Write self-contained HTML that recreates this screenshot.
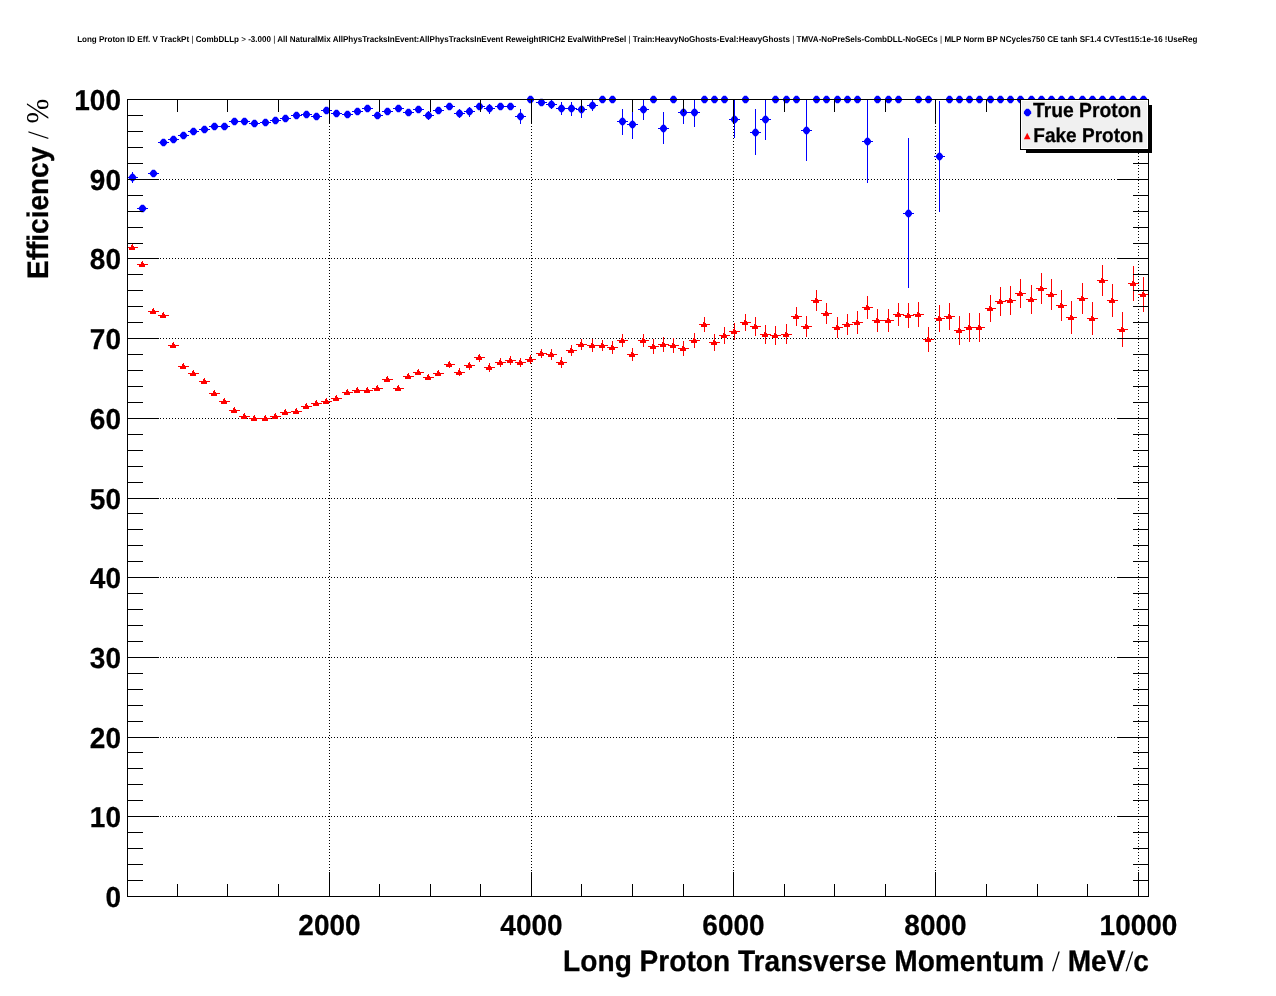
<!DOCTYPE html>
<html><head><meta charset="utf-8"><title>Long Proton ID Eff. V TrackPt</title>
<style>html,body{margin:0;padding:0;background:#fff;}body{width:1276px;height:996px;overflow:hidden;}svg{display:block;}</style>
</head><body>
<svg width="1276" height="996" viewBox="0 0 1276 996">
<rect x="0" y="0" width="1276" height="996" fill="#ffffff"/>
<path d="M127,816.5H1149M127,737.5H1149M127,657.5H1149M127,577.5H1149M127,498.5H1149M127,418.5H1149M127,338.5H1149M127,258.5H1149M127,179.5H1149M329.5,99V897M531.5,99V897M733.5,99V897M935.5,99V897M1138.5,99V897" stroke="#000" stroke-width="1" stroke-dasharray="1 2" fill="none"/>
<path d="M127.0,177.5H138.0M132.5,172V183M137.0,208.5H148.0M148.0,173.5H159.0M158.0,142.5H169.0M168.0,139.5H179.0M178.0,135.5H189.0M188.0,131.5H199.0M199.0,129.5H210.0M209.0,126.5H220.0M219.0,126.5H230.0M229.0,121.5H240.0M239.0,121.5H250.0M249.0,123.5H260.0M260.0,122.5H271.0M270.0,120.5H281.0M280.0,118.5H291.0M291.0,115.5H302.0M301.0,114.5H312.0M311.0,116.5H322.0M321.0,110.5H332.0M331.0,113.5H342.0M342.0,114.5H353.0M352.0,111.5H363.0M362.0,108.5H373.0M372.0,115.5H383.0M382.0,111.5H393.0M393.0,108.5H404.0M403.0,112.5H414.0M413.0,109.5H424.0M423.0,115.5H434.0M428.5,111V120M433.0,110.5H444.0M444.0,106.5H455.0M454.0,113.5H465.0M459.5,109V118M464.0,111.5H475.0M469.5,107V117M474.0,106.5H485.0M484.0,108.5H495.0M489.5,104V114M495.0,106.5H506.0M505.0,106.5H516.0M515.0,116.5H526.0M520.5,109V124M525.0,99.5H536.0M536.0,102.5H547.0M546.0,104.5H557.0M551.5,100V109M556.0,108.5H567.0M561.5,102V115M566.0,108.5H577.0M571.5,102V116M576.0,109.5H587.0M581.5,104V118M587.0,105.5H598.0M592.5,100V111M597.0,99.5H608.0M607.0,99.5H618.0M617.0,121.5H628.0M622.5,109V135M627.0,124.5H638.0M632.5,112V139M638.0,109.5H649.0M643.5,100V120M648.0,99.5H659.0M658.0,128.5H669.0M663.5,112V144M668.0,99.5H679.0M678.0,112.5H689.0M683.5,100V124M689.0,112.5H700.0M694.5,100V127M699.0,99.5H710.0M709.0,99.5H720.0M719.0,99.5H730.0M729.0,119.5H740.0M734.5,100V138M740.0,99.5H751.0M750.0,132.5H761.0M755.5,109V155M760.0,119.5H771.0M765.5,100V140M770.0,99.5H781.0M781.0,99.5H792.0M791.0,99.5H802.0M801.0,130.5H812.0M806.5,100V161M811.0,99.5H822.0M821.0,99.5H832.0M832.0,99.5H843.0M842.0,99.5H853.0M852.0,99.5H863.0M862.0,141.5H873.0M867.5,100V183M872.0,99.5H883.0M883.0,99.5H894.0M893.0,99.5H904.0M903.0,213.5H914.0M908.5,138V288M913.0,99.5H924.0M923.0,99.5H934.0M934.0,156.5H945.0M939.5,101V212M944.0,99.5H955.0M954.0,99.5H965.0M964.0,99.5H975.0M974.0,99.5H985.0M985.0,99.5H996.0M995.0,99.5H1006.0M1005.0,99.5H1016.0M1015.0,99.5H1026.0M1026.0,99.5H1037.0M1036.0,99.5H1047.0M1046.0,99.5H1057.0M1056.0,99.5H1067.0M1066.0,99.5H1077.0M1077.0,99.5H1088.0M1087.0,99.5H1098.0M1097.0,99.5H1108.0M1107.0,99.5H1118.0M1117.0,99.5H1128.0M1128.0,99.5H1139.0M1138.0,99.5H1149.0" stroke="#0000ff" stroke-width="1" fill="none"/>
<path d="M127.0,247.5H138.0M137.0,264.5H148.0M148.0,311.5H159.0M158.0,315.5H169.0M168.0,345.5H179.0M178.0,366.5H189.0M188.0,373.5H199.0M199.0,381.5H210.0M209.0,393.5H220.0M219.0,401.5H230.0M229.0,410.5H240.0M239.0,416.5H250.0M249.0,418.5H260.0M260.0,418.5H271.0M270.0,416.5H281.0M280.0,412.5H291.0M291.0,411.5H302.0M301.0,406.5H312.0M311.0,403.5H322.0M321.0,401.5H332.0M331.0,398.5H342.0M342.0,392.5H353.0M352.0,390.5H363.0M362.0,390.5H373.0M372.0,388.5H383.0M382.0,379.5H393.0M393.0,388.5H404.0M403.0,376.5H414.0M413.0,372.5H424.0M423.0,377.5H434.0M433.0,373.5H444.0M444.0,364.5H455.0M449.5,361V368M454.0,372.5H465.0M459.5,368V376M464.0,365.5H475.0M469.5,362V370M474.0,357.5H485.0M479.5,354V362M484.0,367.5H495.0M489.5,363V372M495.0,362.5H506.0M500.5,358V367M505.0,360.5H516.0M510.5,356V365M515.0,362.5H526.0M520.5,358V367M525.0,359.5H536.0M530.5,355V364M536.0,353.5H547.0M541.5,349V358M546.0,354.5H557.0M551.5,349V360M556.0,362.5H567.0M561.5,357V368M566.0,350.5H577.0M571.5,345V356M576.0,344.5H587.0M581.5,339V350M587.0,345.5H598.0M592.5,339V352M597.0,345.5H608.0M602.5,340V351M607.0,347.5H618.0M612.5,341V354M617.0,340.5H628.0M622.5,334V347M627.0,354.5H638.0M632.5,348V361M638.0,340.5H649.0M643.5,334V347M648.0,346.5H659.0M653.5,339V354M658.0,344.5H669.0M663.5,337V352M668.0,345.5H679.0M673.5,338V353M678.0,348.5H689.0M683.5,341V356M689.0,340.5H700.0M694.5,333V348M699.0,324.5H710.0M704.5,317V332M709.0,342.5H720.0M714.5,334V351M719.0,335.5H730.0M724.5,327V344M729.0,331.5H740.0M734.5,323V340M740.0,322.5H751.0M745.5,314V331M750.0,326.5H761.0M755.5,317V336M760.0,334.5H771.0M765.5,325V344M770.0,335.5H781.0M775.5,326V345M781.0,334.5H792.0M786.5,324V344M791.0,316.5H802.0M796.5,307V326M801.0,326.5H812.0M806.5,316V337M811.0,300.5H822.0M816.5,290V311M821.0,313.5H832.0M826.5,303V324M832.0,327.5H843.0M837.5,317V338M842.0,324.5H853.0M847.5,314V335M852.0,322.5H863.0M857.5,311V334M862.0,307.5H873.0M867.5,296V319M872.0,320.5H883.0M877.5,309V332M883.0,320.5H894.0M888.5,309V332M893.0,314.5H904.0M898.5,303V326M903.0,315.5H914.0M908.5,303V328M913.0,314.5H924.0M918.5,302V327M923.0,339.5H934.0M928.5,327V352M934.0,318.5H945.0M939.5,305V332M944.0,316.5H955.0M949.5,303V330M954.0,330.5H965.0M959.5,316V345M964.0,327.5H975.0M969.5,313V342M974.0,327.5H985.0M979.5,313V342M985.0,308.5H996.0M990.5,295V322M995.0,301.5H1006.0M1000.5,287V316M1005.0,300.5H1016.0M1010.5,286V315M1015.0,293.5H1026.0M1020.5,279V308M1026.0,299.5H1037.0M1031.5,285V314M1036.0,288.5H1047.0M1041.5,273V304M1046.0,294.5H1057.0M1051.5,279V310M1056.0,305.5H1067.0M1061.5,290V321M1066.0,317.5H1077.0M1071.5,301V334M1077.0,298.5H1088.0M1082.5,283V314M1087.0,318.5H1098.0M1092.5,302V335M1097.0,280.5H1108.0M1102.5,265V296M1107.0,300.5H1118.0M1112.5,284V317M1117.0,329.5H1128.0M1122.5,312V347M1128.0,283.5H1139.0M1133.5,266V301M1138.0,294.5H1149.0M1143.5,277V312" stroke="#ff0000" stroke-width="1" fill="none"/>
<path d="M131.3,173.8L133.7,173.8L134.9,175.1L136.2,176.8L136.2,178.2L134.9,179.9L133.7,181.2L131.3,181.2L130.1,179.9L128.8,178.2L128.8,176.8L130.1,175.1ZM141.3,204.8L143.7,204.8L144.9,206.1L146.2,207.8L146.2,209.2L144.9,210.9L143.7,212.2L141.3,212.2L140.1,210.9L138.8,209.2L138.8,207.8L140.1,206.1ZM152.3,169.8L154.7,169.8L155.9,171.1L157.2,172.8L157.2,174.2L155.9,175.9L154.7,177.2L152.3,177.2L151.1,175.9L149.8,174.2L149.8,172.8L151.1,171.1ZM162.3,138.8L164.7,138.8L165.9,140.1L167.2,141.8L167.2,143.2L165.9,144.9L164.7,146.2L162.3,146.2L161.1,144.9L159.8,143.2L159.8,141.8L161.1,140.1ZM172.3,135.8L174.7,135.8L175.9,137.1L177.2,138.8L177.2,140.2L175.9,141.9L174.7,143.2L172.3,143.2L171.1,141.9L169.8,140.2L169.8,138.8L171.1,137.1ZM182.3,131.8L184.7,131.8L185.9,133.1L187.2,134.8L187.2,136.2L185.9,137.9L184.7,139.2L182.3,139.2L181.1,137.9L179.8,136.2L179.8,134.8L181.1,133.1ZM192.3,127.8L194.7,127.8L195.9,129.1L197.2,130.8L197.2,132.2L195.9,133.9L194.7,135.2L192.3,135.2L191.1,133.9L189.8,132.2L189.8,130.8L191.1,129.1ZM203.3,125.8L205.7,125.8L206.9,127.1L208.2,128.8L208.2,130.2L206.9,131.9L205.7,133.2L203.3,133.2L202.1,131.9L200.8,130.2L200.8,128.8L202.1,127.1ZM213.3,122.8L215.7,122.8L216.9,124.1L218.2,125.8L218.2,127.2L216.9,128.9L215.7,130.2L213.3,130.2L212.1,128.9L210.8,127.2L210.8,125.8L212.1,124.1ZM223.3,122.8L225.7,122.8L226.9,124.1L228.2,125.8L228.2,127.2L226.9,128.9L225.7,130.2L223.3,130.2L222.1,128.9L220.8,127.2L220.8,125.8L222.1,124.1ZM233.3,117.8L235.7,117.8L236.9,119.1L238.2,120.8L238.2,122.2L236.9,123.9L235.7,125.2L233.3,125.2L232.1,123.9L230.8,122.2L230.8,120.8L232.1,119.1ZM243.3,117.8L245.7,117.8L246.9,119.1L248.2,120.8L248.2,122.2L246.9,123.9L245.7,125.2L243.3,125.2L242.1,123.9L240.8,122.2L240.8,120.8L242.1,119.1ZM253.3,119.8L255.7,119.8L256.9,121.1L258.1,122.8L258.1,124.2L256.9,125.9L255.7,127.2L253.3,127.2L252.1,125.9L250.8,124.2L250.8,122.8L252.1,121.1ZM264.3,118.8L266.7,118.8L267.9,120.1L269.1,121.8L269.1,123.2L267.9,124.9L266.7,126.2L264.3,126.2L263.1,124.9L261.9,123.2L261.9,121.8L263.1,120.1ZM274.3,116.8L276.7,116.8L277.9,118.1L279.1,119.8L279.1,121.2L277.9,122.9L276.7,124.2L274.3,124.2L273.1,122.9L271.9,121.2L271.9,119.8L273.1,118.1ZM284.3,114.8L286.7,114.8L287.9,116.1L289.1,117.8L289.1,119.2L287.9,120.9L286.7,122.2L284.3,122.2L283.1,120.9L281.9,119.2L281.9,117.8L283.1,116.1ZM295.3,111.8L297.7,111.8L298.9,113.1L300.1,114.8L300.1,116.2L298.9,117.9L297.7,119.2L295.3,119.2L294.1,117.9L292.9,116.2L292.9,114.8L294.1,113.1ZM305.3,110.8L307.7,110.8L308.9,112.1L310.1,113.8L310.1,115.2L308.9,116.9L307.7,118.2L305.3,118.2L304.1,116.9L302.9,115.2L302.9,113.8L304.1,112.1ZM315.3,112.8L317.7,112.8L318.9,114.1L320.1,115.8L320.1,117.2L318.9,118.9L317.7,120.2L315.3,120.2L314.1,118.9L312.9,117.2L312.9,115.8L314.1,114.1ZM325.3,106.8L327.7,106.8L328.9,108.1L330.1,109.8L330.1,111.2L328.9,112.9L327.7,114.2L325.3,114.2L324.1,112.9L322.9,111.2L322.9,109.8L324.1,108.1ZM335.3,109.8L337.7,109.8L338.9,111.1L340.1,112.8L340.1,114.2L338.9,115.9L337.7,117.2L335.3,117.2L334.1,115.9L332.9,114.2L332.9,112.8L334.1,111.1ZM346.3,110.8L348.7,110.8L349.9,112.1L351.1,113.8L351.1,115.2L349.9,116.9L348.7,118.2L346.3,118.2L345.1,116.9L343.9,115.2L343.9,113.8L345.1,112.1ZM356.3,107.8L358.7,107.8L359.9,109.1L361.1,110.8L361.1,112.2L359.9,113.9L358.7,115.2L356.3,115.2L355.1,113.9L353.9,112.2L353.9,110.8L355.1,109.1ZM366.3,104.8L368.7,104.8L369.9,106.1L371.1,107.8L371.1,109.2L369.9,110.9L368.7,112.2L366.3,112.2L365.1,110.9L363.9,109.2L363.9,107.8L365.1,106.1ZM376.3,111.8L378.7,111.8L379.9,113.1L381.1,114.8L381.1,116.2L379.9,117.9L378.7,119.2L376.3,119.2L375.1,117.9L373.9,116.2L373.9,114.8L375.1,113.1ZM386.3,107.8L388.7,107.8L389.9,109.1L391.1,110.8L391.1,112.2L389.9,113.9L388.7,115.2L386.3,115.2L385.1,113.9L383.9,112.2L383.9,110.8L385.1,109.1ZM397.3,104.8L399.7,104.8L400.9,106.1L402.1,107.8L402.1,109.2L400.9,110.9L399.7,112.2L397.3,112.2L396.1,110.9L394.9,109.2L394.9,107.8L396.1,106.1ZM407.3,108.8L409.7,108.8L410.9,110.1L412.1,111.8L412.1,113.2L410.9,114.9L409.7,116.2L407.3,116.2L406.1,114.9L404.9,113.2L404.9,111.8L406.1,110.1ZM417.3,105.8L419.7,105.8L420.9,107.1L422.1,108.8L422.1,110.2L420.9,111.9L419.7,113.2L417.3,113.2L416.1,111.9L414.9,110.2L414.9,108.8L416.1,107.1ZM427.3,111.8L429.7,111.8L430.9,113.1L432.1,114.8L432.1,116.2L430.9,117.9L429.7,119.2L427.3,119.2L426.1,117.9L424.9,116.2L424.9,114.8L426.1,113.1ZM437.3,106.8L439.7,106.8L440.9,108.1L442.1,109.8L442.1,111.2L440.9,112.9L439.7,114.2L437.3,114.2L436.1,112.9L434.9,111.2L434.9,109.8L436.1,108.1ZM448.3,102.8L450.7,102.8L451.9,104.1L453.1,105.8L453.1,107.2L451.9,108.9L450.7,110.2L448.3,110.2L447.1,108.9L445.9,107.2L445.9,105.8L447.1,104.1ZM458.3,109.8L460.7,109.8L461.9,111.1L463.1,112.8L463.1,114.2L461.9,115.9L460.7,117.2L458.3,117.2L457.1,115.9L455.9,114.2L455.9,112.8L457.1,111.1ZM468.3,107.8L470.7,107.8L471.9,109.1L473.1,110.8L473.1,112.2L471.9,113.9L470.7,115.2L468.3,115.2L467.1,113.9L465.9,112.2L465.9,110.8L467.1,109.1ZM478.3,102.8L480.7,102.8L481.9,104.1L483.1,105.8L483.1,107.2L481.9,108.9L480.7,110.2L478.3,110.2L477.1,108.9L475.9,107.2L475.9,105.8L477.1,104.1ZM488.3,104.8L490.7,104.8L491.9,106.1L493.1,107.8L493.1,109.2L491.9,110.9L490.7,112.2L488.3,112.2L487.1,110.9L485.9,109.2L485.9,107.8L487.1,106.1ZM499.3,102.8L501.7,102.8L502.9,104.1L504.1,105.8L504.1,107.2L502.9,108.9L501.7,110.2L499.3,110.2L498.1,108.9L496.9,107.2L496.9,105.8L498.1,104.1ZM509.3,102.8L511.7,102.8L512.9,104.1L514.1,105.8L514.1,107.2L512.9,108.9L511.7,110.2L509.3,110.2L508.1,108.9L506.9,107.2L506.9,105.8L508.1,104.1ZM519.3,112.8L521.7,112.8L522.9,114.1L524.1,115.8L524.1,117.2L522.9,118.9L521.7,120.2L519.3,120.2L518.1,118.9L516.9,117.2L516.9,115.8L518.1,114.1ZM529.3,95.8L531.7,95.8L532.9,97.1L534.1,98.8L534.1,100.2L532.9,101.9L531.7,103.2L529.3,103.2L528.1,101.9L526.9,100.2L526.9,98.8L528.1,97.1ZM540.3,98.8L542.7,98.8L543.9,100.1L545.1,101.8L545.1,103.2L543.9,104.9L542.7,106.2L540.3,106.2L539.1,104.9L537.9,103.2L537.9,101.8L539.1,100.1ZM550.3,100.8L552.7,100.8L553.9,102.1L555.1,103.8L555.1,105.2L553.9,106.9L552.7,108.2L550.3,108.2L549.1,106.9L547.9,105.2L547.9,103.8L549.1,102.1ZM560.3,104.8L562.7,104.8L563.9,106.1L565.1,107.8L565.1,109.2L563.9,110.9L562.7,112.2L560.3,112.2L559.1,110.9L557.9,109.2L557.9,107.8L559.1,106.1ZM570.3,104.8L572.7,104.8L573.9,106.1L575.1,107.8L575.1,109.2L573.9,110.9L572.7,112.2L570.3,112.2L569.1,110.9L567.9,109.2L567.9,107.8L569.1,106.1ZM580.3,105.8L582.7,105.8L583.9,107.1L585.1,108.8L585.1,110.2L583.9,111.9L582.7,113.2L580.3,113.2L579.1,111.9L577.9,110.2L577.9,108.8L579.1,107.1ZM591.3,101.8L593.7,101.8L594.9,103.1L596.1,104.8L596.1,106.2L594.9,107.9L593.7,109.2L591.3,109.2L590.1,107.9L588.9,106.2L588.9,104.8L590.1,103.1ZM601.3,95.8L603.7,95.8L604.9,97.1L606.1,98.8L606.1,100.2L604.9,101.9L603.7,103.2L601.3,103.2L600.1,101.9L598.9,100.2L598.9,98.8L600.1,97.1ZM611.3,95.8L613.7,95.8L614.9,97.1L616.1,98.8L616.1,100.2L614.9,101.9L613.7,103.2L611.3,103.2L610.1,101.9L608.9,100.2L608.9,98.8L610.1,97.1ZM621.3,117.8L623.7,117.8L624.9,119.1L626.1,120.8L626.1,122.2L624.9,123.9L623.7,125.2L621.3,125.2L620.1,123.9L618.9,122.2L618.9,120.8L620.1,119.1ZM631.3,120.8L633.7,120.8L634.9,122.1L636.1,123.8L636.1,125.2L634.9,126.9L633.7,128.2L631.3,128.2L630.1,126.9L628.9,125.2L628.9,123.8L630.1,122.1ZM642.3,105.8L644.7,105.8L645.9,107.1L647.1,108.8L647.1,110.2L645.9,111.9L644.7,113.2L642.3,113.2L641.1,111.9L639.9,110.2L639.9,108.8L641.1,107.1ZM652.3,95.8L654.7,95.8L655.9,97.1L657.1,98.8L657.1,100.2L655.9,101.9L654.7,103.2L652.3,103.2L651.1,101.9L649.9,100.2L649.9,98.8L651.1,97.1ZM662.3,124.8L664.7,124.8L665.9,126.1L667.1,127.8L667.1,129.2L665.9,130.9L664.7,132.2L662.3,132.2L661.1,130.9L659.9,129.2L659.9,127.8L661.1,126.1ZM672.3,95.8L674.7,95.8L675.9,97.1L677.1,98.8L677.1,100.2L675.9,101.9L674.7,103.2L672.3,103.2L671.1,101.9L669.9,100.2L669.9,98.8L671.1,97.1ZM682.3,108.8L684.7,108.8L685.9,110.1L687.1,111.8L687.1,113.2L685.9,114.9L684.7,116.2L682.3,116.2L681.1,114.9L679.9,113.2L679.9,111.8L681.1,110.1ZM693.3,108.8L695.7,108.8L696.9,110.1L698.1,111.8L698.1,113.2L696.9,114.9L695.7,116.2L693.3,116.2L692.1,114.9L690.9,113.2L690.9,111.8L692.1,110.1ZM703.3,95.8L705.7,95.8L706.9,97.1L708.1,98.8L708.1,100.2L706.9,101.9L705.7,103.2L703.3,103.2L702.1,101.9L700.9,100.2L700.9,98.8L702.1,97.1ZM713.3,95.8L715.7,95.8L716.9,97.1L718.1,98.8L718.1,100.2L716.9,101.9L715.7,103.2L713.3,103.2L712.1,101.9L710.9,100.2L710.9,98.8L712.1,97.1ZM723.3,95.8L725.7,95.8L726.9,97.1L728.1,98.8L728.1,100.2L726.9,101.9L725.7,103.2L723.3,103.2L722.1,101.9L720.9,100.2L720.9,98.8L722.1,97.1ZM733.3,115.8L735.7,115.8L736.9,117.1L738.1,118.8L738.1,120.2L736.9,121.9L735.7,123.2L733.3,123.2L732.1,121.9L730.9,120.2L730.9,118.8L732.1,117.1ZM744.3,95.8L746.7,95.8L747.9,97.1L749.1,98.8L749.1,100.2L747.9,101.9L746.7,103.2L744.3,103.2L743.1,101.9L741.9,100.2L741.9,98.8L743.1,97.1ZM754.3,128.8L756.7,128.8L757.9,130.1L759.1,131.8L759.1,133.2L757.9,134.9L756.7,136.2L754.3,136.2L753.1,134.9L751.9,133.2L751.9,131.8L753.1,130.1ZM764.3,115.8L766.7,115.8L767.9,117.1L769.1,118.8L769.1,120.2L767.9,121.9L766.7,123.2L764.3,123.2L763.1,121.9L761.9,120.2L761.9,118.8L763.1,117.1ZM774.3,95.8L776.7,95.8L777.9,97.1L779.1,98.8L779.1,100.2L777.9,101.9L776.7,103.2L774.3,103.2L773.1,101.9L771.9,100.2L771.9,98.8L773.1,97.1ZM785.3,95.8L787.7,95.8L788.9,97.1L790.1,98.8L790.1,100.2L788.9,101.9L787.7,103.2L785.3,103.2L784.1,101.9L782.9,100.2L782.9,98.8L784.1,97.1ZM795.3,95.8L797.7,95.8L798.9,97.1L800.1,98.8L800.1,100.2L798.9,101.9L797.7,103.2L795.3,103.2L794.1,101.9L792.9,100.2L792.9,98.8L794.1,97.1ZM805.3,126.8L807.7,126.8L808.9,128.1L810.1,129.8L810.1,131.2L808.9,132.9L807.7,134.2L805.3,134.2L804.1,132.9L802.9,131.2L802.9,129.8L804.1,128.1ZM815.3,95.8L817.7,95.8L818.9,97.1L820.1,98.8L820.1,100.2L818.9,101.9L817.7,103.2L815.3,103.2L814.1,101.9L812.9,100.2L812.9,98.8L814.1,97.1ZM825.3,95.8L827.7,95.8L828.9,97.1L830.1,98.8L830.1,100.2L828.9,101.9L827.7,103.2L825.3,103.2L824.1,101.9L822.9,100.2L822.9,98.8L824.1,97.1ZM836.3,95.8L838.7,95.8L839.9,97.1L841.1,98.8L841.1,100.2L839.9,101.9L838.7,103.2L836.3,103.2L835.1,101.9L833.9,100.2L833.9,98.8L835.1,97.1ZM846.3,95.8L848.7,95.8L849.9,97.1L851.1,98.8L851.1,100.2L849.9,101.9L848.7,103.2L846.3,103.2L845.1,101.9L843.9,100.2L843.9,98.8L845.1,97.1ZM856.3,95.8L858.7,95.8L859.9,97.1L861.1,98.8L861.1,100.2L859.9,101.9L858.7,103.2L856.3,103.2L855.1,101.9L853.9,100.2L853.9,98.8L855.1,97.1ZM866.3,137.8L868.7,137.8L869.9,139.1L871.1,140.8L871.1,142.2L869.9,143.9L868.7,145.2L866.3,145.2L865.1,143.9L863.9,142.2L863.9,140.8L865.1,139.1ZM876.3,95.8L878.7,95.8L879.9,97.1L881.1,98.8L881.1,100.2L879.9,101.9L878.7,103.2L876.3,103.2L875.1,101.9L873.9,100.2L873.9,98.8L875.1,97.1ZM887.3,95.8L889.7,95.8L890.9,97.1L892.1,98.8L892.1,100.2L890.9,101.9L889.7,103.2L887.3,103.2L886.1,101.9L884.9,100.2L884.9,98.8L886.1,97.1ZM897.3,95.8L899.7,95.8L900.9,97.1L902.1,98.8L902.1,100.2L900.9,101.9L899.7,103.2L897.3,103.2L896.1,101.9L894.9,100.2L894.9,98.8L896.1,97.1ZM907.3,209.8L909.7,209.8L910.9,211.1L912.1,212.8L912.1,214.2L910.9,215.9L909.7,217.2L907.3,217.2L906.1,215.9L904.9,214.2L904.9,212.8L906.1,211.1ZM917.3,95.8L919.7,95.8L920.9,97.1L922.1,98.8L922.1,100.2L920.9,101.9L919.7,103.2L917.3,103.2L916.1,101.9L914.9,100.2L914.9,98.8L916.1,97.1ZM927.3,95.8L929.7,95.8L930.9,97.1L932.1,98.8L932.1,100.2L930.9,101.9L929.7,103.2L927.3,103.2L926.1,101.9L924.9,100.2L924.9,98.8L926.1,97.1ZM938.3,152.8L940.7,152.8L941.9,154.1L943.1,155.8L943.1,157.2L941.9,158.9L940.7,160.2L938.3,160.2L937.1,158.9L935.9,157.2L935.9,155.8L937.1,154.1ZM948.3,95.8L950.7,95.8L951.9,97.1L953.1,98.8L953.1,100.2L951.9,101.9L950.7,103.2L948.3,103.2L947.1,101.9L945.9,100.2L945.9,98.8L947.1,97.1ZM958.3,95.8L960.7,95.8L961.9,97.1L963.1,98.8L963.1,100.2L961.9,101.9L960.7,103.2L958.3,103.2L957.1,101.9L955.9,100.2L955.9,98.8L957.1,97.1ZM968.3,95.8L970.7,95.8L971.9,97.1L973.1,98.8L973.1,100.2L971.9,101.9L970.7,103.2L968.3,103.2L967.1,101.9L965.9,100.2L965.9,98.8L967.1,97.1ZM978.3,95.8L980.7,95.8L981.9,97.1L983.1,98.8L983.1,100.2L981.9,101.9L980.7,103.2L978.3,103.2L977.1,101.9L975.9,100.2L975.9,98.8L977.1,97.1ZM989.3,95.8L991.7,95.8L992.9,97.1L994.1,98.8L994.1,100.2L992.9,101.9L991.7,103.2L989.3,103.2L988.1,101.9L986.9,100.2L986.9,98.8L988.1,97.1ZM999.3,95.8L1001.7,95.8L1002.9,97.1L1004.1,98.8L1004.1,100.2L1002.9,101.9L1001.7,103.2L999.3,103.2L998.1,101.9L996.9,100.2L996.9,98.8L998.1,97.1ZM1009.3,95.8L1011.7,95.8L1012.9,97.1L1014.1,98.8L1014.1,100.2L1012.9,101.9L1011.7,103.2L1009.3,103.2L1008.1,101.9L1006.9,100.2L1006.9,98.8L1008.1,97.1ZM1019.3,95.8L1021.7,95.8L1022.9,97.1L1024.2,98.8L1024.2,100.2L1022.9,101.9L1021.7,103.2L1019.3,103.2L1018.1,101.9L1016.9,100.2L1016.9,98.8L1018.1,97.1ZM1030.3,95.8L1032.7,95.8L1033.9,97.1L1035.2,98.8L1035.2,100.2L1033.9,101.9L1032.7,103.2L1030.3,103.2L1029.1,101.9L1027.8,100.2L1027.8,98.8L1029.1,97.1ZM1040.3,95.8L1042.7,95.8L1043.9,97.1L1045.2,98.8L1045.2,100.2L1043.9,101.9L1042.7,103.2L1040.3,103.2L1039.1,101.9L1037.8,100.2L1037.8,98.8L1039.1,97.1ZM1050.3,95.8L1052.7,95.8L1053.9,97.1L1055.2,98.8L1055.2,100.2L1053.9,101.9L1052.7,103.2L1050.3,103.2L1049.1,101.9L1047.8,100.2L1047.8,98.8L1049.1,97.1ZM1060.3,95.8L1062.7,95.8L1063.9,97.1L1065.2,98.8L1065.2,100.2L1063.9,101.9L1062.7,103.2L1060.3,103.2L1059.1,101.9L1057.8,100.2L1057.8,98.8L1059.1,97.1ZM1070.3,95.8L1072.7,95.8L1073.9,97.1L1075.2,98.8L1075.2,100.2L1073.9,101.9L1072.7,103.2L1070.3,103.2L1069.1,101.9L1067.8,100.2L1067.8,98.8L1069.1,97.1ZM1081.3,95.8L1083.7,95.8L1084.9,97.1L1086.2,98.8L1086.2,100.2L1084.9,101.9L1083.7,103.2L1081.3,103.2L1080.1,101.9L1078.8,100.2L1078.8,98.8L1080.1,97.1ZM1091.3,95.8L1093.7,95.8L1094.9,97.1L1096.2,98.8L1096.2,100.2L1094.9,101.9L1093.7,103.2L1091.3,103.2L1090.1,101.9L1088.8,100.2L1088.8,98.8L1090.1,97.1ZM1101.3,95.8L1103.7,95.8L1104.9,97.1L1106.2,98.8L1106.2,100.2L1104.9,101.9L1103.7,103.2L1101.3,103.2L1100.1,101.9L1098.8,100.2L1098.8,98.8L1100.1,97.1ZM1111.3,95.8L1113.7,95.8L1114.9,97.1L1116.2,98.8L1116.2,100.2L1114.9,101.9L1113.7,103.2L1111.3,103.2L1110.1,101.9L1108.8,100.2L1108.8,98.8L1110.1,97.1ZM1121.3,95.8L1123.7,95.8L1124.9,97.1L1126.2,98.8L1126.2,100.2L1124.9,101.9L1123.7,103.2L1121.3,103.2L1120.1,101.9L1118.8,100.2L1118.8,98.8L1120.1,97.1ZM1132.3,95.8L1134.7,95.8L1135.9,97.1L1137.2,98.8L1137.2,100.2L1135.9,101.9L1134.7,103.2L1132.3,103.2L1131.1,101.9L1129.8,100.2L1129.8,98.8L1131.1,97.1ZM1142.3,95.8L1144.7,95.8L1145.9,97.1L1147.2,98.8L1147.2,100.2L1145.9,101.9L1144.7,103.2L1142.3,103.2L1141.1,101.9L1139.8,100.2L1139.8,98.8L1141.1,97.1Z" fill="#0000ff"/>
<path d="M132.0,244.0L133.0,244.0L133.0,246.0L134.0,246.0L134.0,247.0L135.0,247.0L135.0,250.0L129.0,250.0L129.0,248.0L131.0,248.0L131.0,245.0L132.0,245.0ZM142.0,261.0L143.0,261.0L143.0,263.0L144.0,263.0L144.0,264.0L145.0,264.0L145.0,267.0L139.0,267.0L139.0,265.0L141.0,265.0L141.0,262.0L142.0,262.0ZM153.0,308.0L154.0,308.0L154.0,310.0L155.0,310.0L155.0,311.0L156.0,311.0L156.0,314.0L150.0,314.0L150.0,312.0L152.0,312.0L152.0,309.0L153.0,309.0ZM163.0,312.0L164.0,312.0L164.0,314.0L165.0,314.0L165.0,315.0L166.0,315.0L166.0,318.0L160.0,318.0L160.0,316.0L162.0,316.0L162.0,313.0L163.0,313.0ZM173.0,342.0L174.0,342.0L174.0,344.0L175.0,344.0L175.0,345.0L176.0,345.0L176.0,348.0L170.0,348.0L170.0,346.0L172.0,346.0L172.0,343.0L173.0,343.0ZM183.0,363.0L184.0,363.0L184.0,365.0L185.0,365.0L185.0,366.0L186.0,366.0L186.0,369.0L180.0,369.0L180.0,367.0L182.0,367.0L182.0,364.0L183.0,364.0ZM193.0,370.0L194.0,370.0L194.0,372.0L195.0,372.0L195.0,373.0L196.0,373.0L196.0,376.0L190.0,376.0L190.0,374.0L192.0,374.0L192.0,371.0L193.0,371.0ZM204.0,378.0L205.0,378.0L205.0,380.0L206.0,380.0L206.0,381.0L207.0,381.0L207.0,384.0L201.0,384.0L201.0,382.0L203.0,382.0L203.0,379.0L204.0,379.0ZM214.0,390.0L215.0,390.0L215.0,392.0L216.0,392.0L216.0,393.0L217.0,393.0L217.0,396.0L211.0,396.0L211.0,394.0L213.0,394.0L213.0,391.0L214.0,391.0ZM224.0,398.0L225.0,398.0L225.0,400.0L226.0,400.0L226.0,401.0L227.0,401.0L227.0,404.0L221.0,404.0L221.0,402.0L223.0,402.0L223.0,399.0L224.0,399.0ZM234.0,407.0L235.0,407.0L235.0,409.0L236.0,409.0L236.0,410.0L237.0,410.0L237.0,413.0L231.0,413.0L231.0,411.0L233.0,411.0L233.0,408.0L234.0,408.0ZM244.0,413.0L245.0,413.0L245.0,415.0L246.0,415.0L246.0,416.0L247.0,416.0L247.0,419.0L241.0,419.0L241.0,417.0L243.0,417.0L243.0,414.0L244.0,414.0ZM254.0,415.0L255.0,415.0L255.0,417.0L256.0,417.0L256.0,418.0L257.0,418.0L257.0,421.0L251.0,421.0L251.0,419.0L253.0,419.0L253.0,416.0L254.0,416.0ZM265.0,415.0L266.0,415.0L266.0,417.0L267.0,417.0L267.0,418.0L268.0,418.0L268.0,421.0L262.0,421.0L262.0,419.0L264.0,419.0L264.0,416.0L265.0,416.0ZM275.0,413.0L276.0,413.0L276.0,415.0L277.0,415.0L277.0,416.0L278.0,416.0L278.0,419.0L272.0,419.0L272.0,417.0L274.0,417.0L274.0,414.0L275.0,414.0ZM285.0,409.0L286.0,409.0L286.0,411.0L287.0,411.0L287.0,412.0L288.0,412.0L288.0,415.0L282.0,415.0L282.0,413.0L284.0,413.0L284.0,410.0L285.0,410.0ZM296.0,408.0L297.0,408.0L297.0,410.0L298.0,410.0L298.0,411.0L299.0,411.0L299.0,414.0L293.0,414.0L293.0,412.0L295.0,412.0L295.0,409.0L296.0,409.0ZM306.0,403.0L307.0,403.0L307.0,405.0L308.0,405.0L308.0,406.0L309.0,406.0L309.0,409.0L303.0,409.0L303.0,407.0L305.0,407.0L305.0,404.0L306.0,404.0ZM316.0,400.0L317.0,400.0L317.0,402.0L318.0,402.0L318.0,403.0L319.0,403.0L319.0,406.0L313.0,406.0L313.0,404.0L315.0,404.0L315.0,401.0L316.0,401.0ZM326.0,398.0L327.0,398.0L327.0,400.0L328.0,400.0L328.0,401.0L329.0,401.0L329.0,404.0L323.0,404.0L323.0,402.0L325.0,402.0L325.0,399.0L326.0,399.0ZM336.0,395.0L337.0,395.0L337.0,397.0L338.0,397.0L338.0,398.0L339.0,398.0L339.0,401.0L333.0,401.0L333.0,399.0L335.0,399.0L335.0,396.0L336.0,396.0ZM347.0,389.0L348.0,389.0L348.0,391.0L349.0,391.0L349.0,392.0L350.0,392.0L350.0,395.0L344.0,395.0L344.0,393.0L346.0,393.0L346.0,390.0L347.0,390.0ZM357.0,387.0L358.0,387.0L358.0,389.0L359.0,389.0L359.0,390.0L360.0,390.0L360.0,393.0L354.0,393.0L354.0,391.0L356.0,391.0L356.0,388.0L357.0,388.0ZM367.0,387.0L368.0,387.0L368.0,389.0L369.0,389.0L369.0,390.0L370.0,390.0L370.0,393.0L364.0,393.0L364.0,391.0L366.0,391.0L366.0,388.0L367.0,388.0ZM377.0,385.0L378.0,385.0L378.0,387.0L379.0,387.0L379.0,388.0L380.0,388.0L380.0,391.0L374.0,391.0L374.0,389.0L376.0,389.0L376.0,386.0L377.0,386.0ZM387.0,376.0L388.0,376.0L388.0,378.0L389.0,378.0L389.0,379.0L390.0,379.0L390.0,382.0L384.0,382.0L384.0,380.0L386.0,380.0L386.0,377.0L387.0,377.0ZM398.0,385.0L399.0,385.0L399.0,387.0L400.0,387.0L400.0,388.0L401.0,388.0L401.0,391.0L395.0,391.0L395.0,389.0L397.0,389.0L397.0,386.0L398.0,386.0ZM408.0,373.0L409.0,373.0L409.0,375.0L410.0,375.0L410.0,376.0L411.0,376.0L411.0,379.0L405.0,379.0L405.0,377.0L407.0,377.0L407.0,374.0L408.0,374.0ZM418.0,369.0L419.0,369.0L419.0,371.0L420.0,371.0L420.0,372.0L421.0,372.0L421.0,375.0L415.0,375.0L415.0,373.0L417.0,373.0L417.0,370.0L418.0,370.0ZM428.0,374.0L429.0,374.0L429.0,376.0L430.0,376.0L430.0,377.0L431.0,377.0L431.0,380.0L425.0,380.0L425.0,378.0L427.0,378.0L427.0,375.0L428.0,375.0ZM438.0,370.0L439.0,370.0L439.0,372.0L440.0,372.0L440.0,373.0L441.0,373.0L441.0,376.0L435.0,376.0L435.0,374.0L437.0,374.0L437.0,371.0L438.0,371.0ZM449.0,361.0L450.0,361.0L450.0,363.0L451.0,363.0L451.0,364.0L452.0,364.0L452.0,367.0L446.0,367.0L446.0,365.0L448.0,365.0L448.0,362.0L449.0,362.0ZM459.0,369.0L460.0,369.0L460.0,371.0L461.0,371.0L461.0,372.0L462.0,372.0L462.0,375.0L456.0,375.0L456.0,373.0L458.0,373.0L458.0,370.0L459.0,370.0ZM469.0,362.0L470.0,362.0L470.0,364.0L471.0,364.0L471.0,365.0L472.0,365.0L472.0,368.0L466.0,368.0L466.0,366.0L468.0,366.0L468.0,363.0L469.0,363.0ZM479.0,354.0L480.0,354.0L480.0,356.0L481.0,356.0L481.0,357.0L482.0,357.0L482.0,360.0L476.0,360.0L476.0,358.0L478.0,358.0L478.0,355.0L479.0,355.0ZM489.0,364.0L490.0,364.0L490.0,366.0L491.0,366.0L491.0,367.0L492.0,367.0L492.0,370.0L486.0,370.0L486.0,368.0L488.0,368.0L488.0,365.0L489.0,365.0ZM500.0,359.0L501.0,359.0L501.0,361.0L502.0,361.0L502.0,362.0L503.0,362.0L503.0,365.0L497.0,365.0L497.0,363.0L499.0,363.0L499.0,360.0L500.0,360.0ZM510.0,357.0L511.0,357.0L511.0,359.0L512.0,359.0L512.0,360.0L513.0,360.0L513.0,363.0L507.0,363.0L507.0,361.0L509.0,361.0L509.0,358.0L510.0,358.0ZM520.0,359.0L521.0,359.0L521.0,361.0L522.0,361.0L522.0,362.0L523.0,362.0L523.0,365.0L517.0,365.0L517.0,363.0L519.0,363.0L519.0,360.0L520.0,360.0ZM530.0,356.0L531.0,356.0L531.0,358.0L532.0,358.0L532.0,359.0L533.0,359.0L533.0,362.0L527.0,362.0L527.0,360.0L529.0,360.0L529.0,357.0L530.0,357.0ZM541.0,350.0L542.0,350.0L542.0,352.0L543.0,352.0L543.0,353.0L544.0,353.0L544.0,356.0L538.0,356.0L538.0,354.0L540.0,354.0L540.0,351.0L541.0,351.0ZM551.0,351.0L552.0,351.0L552.0,353.0L553.0,353.0L553.0,354.0L554.0,354.0L554.0,357.0L548.0,357.0L548.0,355.0L550.0,355.0L550.0,352.0L551.0,352.0ZM561.0,359.0L562.0,359.0L562.0,361.0L563.0,361.0L563.0,362.0L564.0,362.0L564.0,365.0L558.0,365.0L558.0,363.0L560.0,363.0L560.0,360.0L561.0,360.0ZM571.0,347.0L572.0,347.0L572.0,349.0L573.0,349.0L573.0,350.0L574.0,350.0L574.0,353.0L568.0,353.0L568.0,351.0L570.0,351.0L570.0,348.0L571.0,348.0ZM581.0,341.0L582.0,341.0L582.0,343.0L583.0,343.0L583.0,344.0L584.0,344.0L584.0,347.0L578.0,347.0L578.0,345.0L580.0,345.0L580.0,342.0L581.0,342.0ZM592.0,342.0L593.0,342.0L593.0,344.0L594.0,344.0L594.0,345.0L595.0,345.0L595.0,348.0L589.0,348.0L589.0,346.0L591.0,346.0L591.0,343.0L592.0,343.0ZM602.0,342.0L603.0,342.0L603.0,344.0L604.0,344.0L604.0,345.0L605.0,345.0L605.0,348.0L599.0,348.0L599.0,346.0L601.0,346.0L601.0,343.0L602.0,343.0ZM612.0,344.0L613.0,344.0L613.0,346.0L614.0,346.0L614.0,347.0L615.0,347.0L615.0,350.0L609.0,350.0L609.0,348.0L611.0,348.0L611.0,345.0L612.0,345.0ZM622.0,337.0L623.0,337.0L623.0,339.0L624.0,339.0L624.0,340.0L625.0,340.0L625.0,343.0L619.0,343.0L619.0,341.0L621.0,341.0L621.0,338.0L622.0,338.0ZM632.0,351.0L633.0,351.0L633.0,353.0L634.0,353.0L634.0,354.0L635.0,354.0L635.0,357.0L629.0,357.0L629.0,355.0L631.0,355.0L631.0,352.0L632.0,352.0ZM643.0,337.0L644.0,337.0L644.0,339.0L645.0,339.0L645.0,340.0L646.0,340.0L646.0,343.0L640.0,343.0L640.0,341.0L642.0,341.0L642.0,338.0L643.0,338.0ZM653.0,343.0L654.0,343.0L654.0,345.0L655.0,345.0L655.0,346.0L656.0,346.0L656.0,349.0L650.0,349.0L650.0,347.0L652.0,347.0L652.0,344.0L653.0,344.0ZM663.0,341.0L664.0,341.0L664.0,343.0L665.0,343.0L665.0,344.0L666.0,344.0L666.0,347.0L660.0,347.0L660.0,345.0L662.0,345.0L662.0,342.0L663.0,342.0ZM673.0,342.0L674.0,342.0L674.0,344.0L675.0,344.0L675.0,345.0L676.0,345.0L676.0,348.0L670.0,348.0L670.0,346.0L672.0,346.0L672.0,343.0L673.0,343.0ZM683.0,345.0L684.0,345.0L684.0,347.0L685.0,347.0L685.0,348.0L686.0,348.0L686.0,351.0L680.0,351.0L680.0,349.0L682.0,349.0L682.0,346.0L683.0,346.0ZM694.0,337.0L695.0,337.0L695.0,339.0L696.0,339.0L696.0,340.0L697.0,340.0L697.0,343.0L691.0,343.0L691.0,341.0L693.0,341.0L693.0,338.0L694.0,338.0ZM704.0,321.0L705.0,321.0L705.0,323.0L706.0,323.0L706.0,324.0L707.0,324.0L707.0,327.0L701.0,327.0L701.0,325.0L703.0,325.0L703.0,322.0L704.0,322.0ZM714.0,339.0L715.0,339.0L715.0,341.0L716.0,341.0L716.0,342.0L717.0,342.0L717.0,345.0L711.0,345.0L711.0,343.0L713.0,343.0L713.0,340.0L714.0,340.0ZM724.0,332.0L725.0,332.0L725.0,334.0L726.0,334.0L726.0,335.0L727.0,335.0L727.0,338.0L721.0,338.0L721.0,336.0L723.0,336.0L723.0,333.0L724.0,333.0ZM734.0,328.0L735.0,328.0L735.0,330.0L736.0,330.0L736.0,331.0L737.0,331.0L737.0,334.0L731.0,334.0L731.0,332.0L733.0,332.0L733.0,329.0L734.0,329.0ZM745.0,319.0L746.0,319.0L746.0,321.0L747.0,321.0L747.0,322.0L748.0,322.0L748.0,325.0L742.0,325.0L742.0,323.0L744.0,323.0L744.0,320.0L745.0,320.0ZM755.0,323.0L756.0,323.0L756.0,325.0L757.0,325.0L757.0,326.0L758.0,326.0L758.0,329.0L752.0,329.0L752.0,327.0L754.0,327.0L754.0,324.0L755.0,324.0ZM765.0,331.0L766.0,331.0L766.0,333.0L767.0,333.0L767.0,334.0L768.0,334.0L768.0,337.0L762.0,337.0L762.0,335.0L764.0,335.0L764.0,332.0L765.0,332.0ZM775.0,332.0L776.0,332.0L776.0,334.0L777.0,334.0L777.0,335.0L778.0,335.0L778.0,338.0L772.0,338.0L772.0,336.0L774.0,336.0L774.0,333.0L775.0,333.0ZM786.0,331.0L787.0,331.0L787.0,333.0L788.0,333.0L788.0,334.0L789.0,334.0L789.0,337.0L783.0,337.0L783.0,335.0L785.0,335.0L785.0,332.0L786.0,332.0ZM796.0,313.0L797.0,313.0L797.0,315.0L798.0,315.0L798.0,316.0L799.0,316.0L799.0,319.0L793.0,319.0L793.0,317.0L795.0,317.0L795.0,314.0L796.0,314.0ZM806.0,323.0L807.0,323.0L807.0,325.0L808.0,325.0L808.0,326.0L809.0,326.0L809.0,329.0L803.0,329.0L803.0,327.0L805.0,327.0L805.0,324.0L806.0,324.0ZM816.0,297.0L817.0,297.0L817.0,299.0L818.0,299.0L818.0,300.0L819.0,300.0L819.0,303.0L813.0,303.0L813.0,301.0L815.0,301.0L815.0,298.0L816.0,298.0ZM826.0,310.0L827.0,310.0L827.0,312.0L828.0,312.0L828.0,313.0L829.0,313.0L829.0,316.0L823.0,316.0L823.0,314.0L825.0,314.0L825.0,311.0L826.0,311.0ZM837.0,324.0L838.0,324.0L838.0,326.0L839.0,326.0L839.0,327.0L840.0,327.0L840.0,330.0L834.0,330.0L834.0,328.0L836.0,328.0L836.0,325.0L837.0,325.0ZM847.0,321.0L848.0,321.0L848.0,323.0L849.0,323.0L849.0,324.0L850.0,324.0L850.0,327.0L844.0,327.0L844.0,325.0L846.0,325.0L846.0,322.0L847.0,322.0ZM857.0,319.0L858.0,319.0L858.0,321.0L859.0,321.0L859.0,322.0L860.0,322.0L860.0,325.0L854.0,325.0L854.0,323.0L856.0,323.0L856.0,320.0L857.0,320.0ZM867.0,304.0L868.0,304.0L868.0,306.0L869.0,306.0L869.0,307.0L870.0,307.0L870.0,310.0L864.0,310.0L864.0,308.0L866.0,308.0L866.0,305.0L867.0,305.0ZM877.0,317.0L878.0,317.0L878.0,319.0L879.0,319.0L879.0,320.0L880.0,320.0L880.0,323.0L874.0,323.0L874.0,321.0L876.0,321.0L876.0,318.0L877.0,318.0ZM888.0,317.0L889.0,317.0L889.0,319.0L890.0,319.0L890.0,320.0L891.0,320.0L891.0,323.0L885.0,323.0L885.0,321.0L887.0,321.0L887.0,318.0L888.0,318.0ZM898.0,311.0L899.0,311.0L899.0,313.0L900.0,313.0L900.0,314.0L901.0,314.0L901.0,317.0L895.0,317.0L895.0,315.0L897.0,315.0L897.0,312.0L898.0,312.0ZM908.0,312.0L909.0,312.0L909.0,314.0L910.0,314.0L910.0,315.0L911.0,315.0L911.0,318.0L905.0,318.0L905.0,316.0L907.0,316.0L907.0,313.0L908.0,313.0ZM918.0,311.0L919.0,311.0L919.0,313.0L920.0,313.0L920.0,314.0L921.0,314.0L921.0,317.0L915.0,317.0L915.0,315.0L917.0,315.0L917.0,312.0L918.0,312.0ZM928.0,336.0L929.0,336.0L929.0,338.0L930.0,338.0L930.0,339.0L931.0,339.0L931.0,342.0L925.0,342.0L925.0,340.0L927.0,340.0L927.0,337.0L928.0,337.0ZM939.0,315.0L940.0,315.0L940.0,317.0L941.0,317.0L941.0,318.0L942.0,318.0L942.0,321.0L936.0,321.0L936.0,319.0L938.0,319.0L938.0,316.0L939.0,316.0ZM949.0,313.0L950.0,313.0L950.0,315.0L951.0,315.0L951.0,316.0L952.0,316.0L952.0,319.0L946.0,319.0L946.0,317.0L948.0,317.0L948.0,314.0L949.0,314.0ZM959.0,327.0L960.0,327.0L960.0,329.0L961.0,329.0L961.0,330.0L962.0,330.0L962.0,333.0L956.0,333.0L956.0,331.0L958.0,331.0L958.0,328.0L959.0,328.0ZM969.0,324.0L970.0,324.0L970.0,326.0L971.0,326.0L971.0,327.0L972.0,327.0L972.0,330.0L966.0,330.0L966.0,328.0L968.0,328.0L968.0,325.0L969.0,325.0ZM979.0,324.0L980.0,324.0L980.0,326.0L981.0,326.0L981.0,327.0L982.0,327.0L982.0,330.0L976.0,330.0L976.0,328.0L978.0,328.0L978.0,325.0L979.0,325.0ZM990.0,305.0L991.0,305.0L991.0,307.0L992.0,307.0L992.0,308.0L993.0,308.0L993.0,311.0L987.0,311.0L987.0,309.0L989.0,309.0L989.0,306.0L990.0,306.0ZM1000.0,298.0L1001.0,298.0L1001.0,300.0L1002.0,300.0L1002.0,301.0L1003.0,301.0L1003.0,304.0L997.0,304.0L997.0,302.0L999.0,302.0L999.0,299.0L1000.0,299.0ZM1010.0,297.0L1011.0,297.0L1011.0,299.0L1012.0,299.0L1012.0,300.0L1013.0,300.0L1013.0,303.0L1007.0,303.0L1007.0,301.0L1009.0,301.0L1009.0,298.0L1010.0,298.0ZM1020.0,290.0L1021.0,290.0L1021.0,292.0L1022.0,292.0L1022.0,293.0L1023.0,293.0L1023.0,296.0L1017.0,296.0L1017.0,294.0L1019.0,294.0L1019.0,291.0L1020.0,291.0ZM1031.0,296.0L1032.0,296.0L1032.0,298.0L1033.0,298.0L1033.0,299.0L1034.0,299.0L1034.0,302.0L1028.0,302.0L1028.0,300.0L1030.0,300.0L1030.0,297.0L1031.0,297.0ZM1041.0,285.0L1042.0,285.0L1042.0,287.0L1043.0,287.0L1043.0,288.0L1044.0,288.0L1044.0,291.0L1038.0,291.0L1038.0,289.0L1040.0,289.0L1040.0,286.0L1041.0,286.0ZM1051.0,291.0L1052.0,291.0L1052.0,293.0L1053.0,293.0L1053.0,294.0L1054.0,294.0L1054.0,297.0L1048.0,297.0L1048.0,295.0L1050.0,295.0L1050.0,292.0L1051.0,292.0ZM1061.0,302.0L1062.0,302.0L1062.0,304.0L1063.0,304.0L1063.0,305.0L1064.0,305.0L1064.0,308.0L1058.0,308.0L1058.0,306.0L1060.0,306.0L1060.0,303.0L1061.0,303.0ZM1071.0,314.0L1072.0,314.0L1072.0,316.0L1073.0,316.0L1073.0,317.0L1074.0,317.0L1074.0,320.0L1068.0,320.0L1068.0,318.0L1070.0,318.0L1070.0,315.0L1071.0,315.0ZM1082.0,295.0L1083.0,295.0L1083.0,297.0L1084.0,297.0L1084.0,298.0L1085.0,298.0L1085.0,301.0L1079.0,301.0L1079.0,299.0L1081.0,299.0L1081.0,296.0L1082.0,296.0ZM1092.0,315.0L1093.0,315.0L1093.0,317.0L1094.0,317.0L1094.0,318.0L1095.0,318.0L1095.0,321.0L1089.0,321.0L1089.0,319.0L1091.0,319.0L1091.0,316.0L1092.0,316.0ZM1102.0,277.0L1103.0,277.0L1103.0,279.0L1104.0,279.0L1104.0,280.0L1105.0,280.0L1105.0,283.0L1099.0,283.0L1099.0,281.0L1101.0,281.0L1101.0,278.0L1102.0,278.0ZM1112.0,297.0L1113.0,297.0L1113.0,299.0L1114.0,299.0L1114.0,300.0L1115.0,300.0L1115.0,303.0L1109.0,303.0L1109.0,301.0L1111.0,301.0L1111.0,298.0L1112.0,298.0ZM1122.0,326.0L1123.0,326.0L1123.0,328.0L1124.0,328.0L1124.0,329.0L1125.0,329.0L1125.0,332.0L1119.0,332.0L1119.0,330.0L1121.0,330.0L1121.0,327.0L1122.0,327.0ZM1133.0,280.0L1134.0,280.0L1134.0,282.0L1135.0,282.0L1135.0,283.0L1136.0,283.0L1136.0,286.0L1130.0,286.0L1130.0,284.0L1132.0,284.0L1132.0,281.0L1133.0,281.0ZM1143.0,291.0L1144.0,291.0L1144.0,293.0L1145.0,293.0L1145.0,294.0L1146.0,294.0L1146.0,297.0L1140.0,297.0L1140.0,295.0L1142.0,295.0L1142.0,292.0L1143.0,292.0Z" fill="#ff0000"/>
<rect x="127.5" y="99.5" width="1021" height="797" fill="none" stroke="#000" stroke-width="1"/>
<path d="M127,896.5h32M1149,896.5h-32M127,880.5h16M1149,880.5h-16M127,864.5h16M1149,864.5h-16M127,848.5h16M1149,848.5h-16M127,832.5h16M1149,832.5h-16M127,816.5h32M1149,816.5h-32M127,800.5h16M1149,800.5h-16M127,784.5h16M1149,784.5h-16M127,768.5h16M1149,768.5h-16M127,752.5h16M1149,752.5h-16M127,737.5h32M1149,737.5h-32M127,721.5h16M1149,721.5h-16M127,705.5h16M1149,705.5h-16M127,689.5h16M1149,689.5h-16M127,673.5h16M1149,673.5h-16M127,657.5h32M1149,657.5h-32M127,641.5h16M1149,641.5h-16M127,625.5h16M1149,625.5h-16M127,609.5h16M1149,609.5h-16M127,593.5h16M1149,593.5h-16M127,577.5h32M1149,577.5h-32M127,561.5h16M1149,561.5h-16M127,545.5h16M1149,545.5h-16M127,529.5h16M1149,529.5h-16M127,513.5h16M1149,513.5h-16M127,498.5h32M1149,498.5h-32M127,482.5h16M1149,482.5h-16M127,466.5h16M1149,466.5h-16M127,450.5h16M1149,450.5h-16M127,434.5h16M1149,434.5h-16M127,418.5h32M1149,418.5h-32M127,402.5h16M1149,402.5h-16M127,386.5h16M1149,386.5h-16M127,370.5h16M1149,370.5h-16M127,354.5h16M1149,354.5h-16M127,338.5h32M1149,338.5h-32M127,322.5h16M1149,322.5h-16M127,306.5h16M1149,306.5h-16M127,290.5h16M1149,290.5h-16M127,274.5h16M1149,274.5h-16M127,258.5h32M1149,258.5h-32M127,243.5h16M1149,243.5h-16M127,227.5h16M1149,227.5h-16M127,211.5h16M1149,211.5h-16M127,195.5h16M1149,195.5h-16M127,179.5h32M1149,179.5h-32M127,163.5h16M1149,163.5h-16M127,147.5h16M1149,147.5h-16M127,131.5h16M1149,131.5h-16M127,115.5h16M1149,115.5h-16M127,99.5h32M1149,99.5h-32M329.5,897V872M329.5,99V124M531.5,897V872M531.5,99V124M733.5,897V872M733.5,99V124M935.5,897V872M935.5,99V124M1138.5,897V872M1138.5,99V124M177.5,897V884M177.5,99V112M227.5,897V884M227.5,99V112M278.5,897V884M278.5,99V112M379.5,897V884M379.5,99V112M430.5,897V884M430.5,99V112M480.5,897V884M480.5,99V112M581.5,897V884M581.5,99V112M632.5,897V884M632.5,99V112M683.5,897V884M683.5,99V112M784.5,897V884M784.5,99V112M834.5,897V884M834.5,99V112M885.5,897V884M885.5,99V112M986.5,897V884M986.5,99V112M1037.5,897V884M1037.5,99V112M1087.5,897V884M1087.5,99V112" stroke="#000" stroke-width="1" fill="none"/>
<text transform="translate(121.0,907.1) scale(1.0,1.03)" text-anchor="end" style="font-family:'Liberation Sans',Arial,Helvetica,sans-serif;font-weight:bold;text-rendering:geometricPrecision;font-size:28px" stroke="#000" stroke-width="0.25">0</text>
<text transform="translate(121.0,827.1) scale(1.0,1.03)" text-anchor="end" style="font-family:'Liberation Sans',Arial,Helvetica,sans-serif;font-weight:bold;text-rendering:geometricPrecision;font-size:28px" stroke="#000" stroke-width="0.25">10</text>
<text transform="translate(121.0,748.1) scale(1.0,1.03)" text-anchor="end" style="font-family:'Liberation Sans',Arial,Helvetica,sans-serif;font-weight:bold;text-rendering:geometricPrecision;font-size:28px" stroke="#000" stroke-width="0.25">20</text>
<text transform="translate(121.0,668.1) scale(1.0,1.03)" text-anchor="end" style="font-family:'Liberation Sans',Arial,Helvetica,sans-serif;font-weight:bold;text-rendering:geometricPrecision;font-size:28px" stroke="#000" stroke-width="0.25">30</text>
<text transform="translate(121.0,588.1) scale(1.0,1.03)" text-anchor="end" style="font-family:'Liberation Sans',Arial,Helvetica,sans-serif;font-weight:bold;text-rendering:geometricPrecision;font-size:28px" stroke="#000" stroke-width="0.25">40</text>
<text transform="translate(121.0,509.1) scale(1.0,1.03)" text-anchor="end" style="font-family:'Liberation Sans',Arial,Helvetica,sans-serif;font-weight:bold;text-rendering:geometricPrecision;font-size:28px" stroke="#000" stroke-width="0.25">50</text>
<text transform="translate(121.0,429.1) scale(1.0,1.03)" text-anchor="end" style="font-family:'Liberation Sans',Arial,Helvetica,sans-serif;font-weight:bold;text-rendering:geometricPrecision;font-size:28px" stroke="#000" stroke-width="0.25">60</text>
<text transform="translate(121.0,349.1) scale(1.0,1.03)" text-anchor="end" style="font-family:'Liberation Sans',Arial,Helvetica,sans-serif;font-weight:bold;text-rendering:geometricPrecision;font-size:28px" stroke="#000" stroke-width="0.25">70</text>
<text transform="translate(121.0,269.1) scale(1.0,1.03)" text-anchor="end" style="font-family:'Liberation Sans',Arial,Helvetica,sans-serif;font-weight:bold;text-rendering:geometricPrecision;font-size:28px" stroke="#000" stroke-width="0.25">80</text>
<text transform="translate(121.0,190.1) scale(1.0,1.03)" text-anchor="end" style="font-family:'Liberation Sans',Arial,Helvetica,sans-serif;font-weight:bold;text-rendering:geometricPrecision;font-size:28px" stroke="#000" stroke-width="0.25">90</text>
<text transform="translate(121.0,110.1) scale(1.0,1.03)" text-anchor="end" style="font-family:'Liberation Sans',Arial,Helvetica,sans-serif;font-weight:bold;text-rendering:geometricPrecision;font-size:28px" stroke="#000" stroke-width="0.25">100</text>
<text transform="translate(329.5,935.0) scale(1.0,1.03)" text-anchor="middle" style="font-family:'Liberation Sans',Arial,Helvetica,sans-serif;font-weight:bold;text-rendering:geometricPrecision;font-size:28px" stroke="#000" stroke-width="0.25">2000</text>
<text transform="translate(531.5,935.0) scale(1.0,1.03)" text-anchor="middle" style="font-family:'Liberation Sans',Arial,Helvetica,sans-serif;font-weight:bold;text-rendering:geometricPrecision;font-size:28px" stroke="#000" stroke-width="0.25">4000</text>
<text transform="translate(733.5,935.0) scale(1.0,1.03)" text-anchor="middle" style="font-family:'Liberation Sans',Arial,Helvetica,sans-serif;font-weight:bold;text-rendering:geometricPrecision;font-size:28px" stroke="#000" stroke-width="0.25">6000</text>
<text transform="translate(935.5,935.0) scale(1.0,1.03)" text-anchor="middle" style="font-family:'Liberation Sans',Arial,Helvetica,sans-serif;font-weight:bold;text-rendering:geometricPrecision;font-size:28px" stroke="#000" stroke-width="0.25">8000</text>
<text transform="translate(1138.5,935.0) scale(1.0,1.03)" text-anchor="middle" style="font-family:'Liberation Sans',Arial,Helvetica,sans-serif;font-weight:bold;text-rendering:geometricPrecision;font-size:28px" stroke="#000" stroke-width="0.25">10000</text>
<text transform="translate(1148.9,970.9) scale(1.004,1.06)" text-anchor="end" style="font-family:'Liberation Sans',Arial,Helvetica,sans-serif;font-weight:bold;text-rendering:geometricPrecision;font-size:28px" stroke="#000" stroke-width="0.25">Long Proton Transverse Momentum <tspan style="font-family:Liberation Serif,serif;font-weight:normal" stroke="none">/</tspan> MeV<tspan style="font-family:Liberation Serif,serif;font-weight:normal" stroke="none">/</tspan>c</text>
<text transform="translate(48.2,98.5) rotate(-90) scale(1.0,1.06)" text-anchor="end" style="font-family:'Liberation Sans',Arial,Helvetica,sans-serif;font-weight:bold;text-rendering:geometricPrecision;font-size:28px" stroke="#000" stroke-width="0.25">Efficiency <tspan style="font-family:Liberation Serif,serif;font-weight:normal" stroke="none">/</tspan> <tspan style="font-family:Liberation Serif,serif;font-weight:normal;font-size:29.9px" stroke="none">%</tspan></text>
<text transform="translate(637.3,42.2) scale(1.0,1.06)" text-anchor="middle" style="font-family:'Liberation Sans',Arial,Helvetica,sans-serif;font-weight:bold;text-rendering:geometricPrecision;font-size:8.04px">Long Proton ID Eff. V TrackPt <tspan style="font-weight:normal" stroke="none">|</tspan> CombDLLp <tspan style="font-weight:normal" stroke="none">&gt;</tspan> -3.000 <tspan style="font-weight:normal" stroke="none">|</tspan> All NaturalMix AllPhysTracksInEvent:AllPhysTracksInEvent ReweightRICH2 EvalWithPreSel <tspan style="font-weight:normal" stroke="none">|</tspan> Train:HeavyNoGhosts-Eval:HeavyGhosts <tspan style="font-weight:normal" stroke="none">|</tspan> TMVA-NoPreSels-CombDLL-NoGECs <tspan style="font-weight:normal" stroke="none">|</tspan> MLP Norm BP NCycles750 CE tanh SF1.4 CVTest15:1e-16 !UseReg</text>
<rect x="1149" y="105" width="3" height="48" fill="#000"/>
<rect x="1026" y="150" width="126" height="3" fill="#000"/>
<rect x="1020" y="99" width="129" height="51" fill="#000"/>
<rect x="1021" y="100" width="127" height="49" fill="#fff"/>
<rect x="1022" y="101" width="125" height="47" fill="#f0f0f0"/>
<path d="M1026.3,108.8L1028.7,108.8L1029.9,110.1L1031.2,111.8L1031.2,113.2L1029.9,114.9L1028.7,116.2L1026.3,116.2L1025.1,114.9L1023.9,113.2L1023.9,111.8L1025.1,110.1Z" fill="#0000ff"/>
<path d="M1027.2,132.8L1030.5,139.2L1023.9,139.2Z" fill="#ff0000"/>
<text transform="translate(1033.0,116.9) scale(1.0,1.06)" text-anchor="start" style="font-family:'Liberation Sans',Arial,Helvetica,sans-serif;font-weight:bold;text-rendering:geometricPrecision;font-size:19.3px" stroke="#000" stroke-width="0.25">True Proton</text>
<text transform="translate(1033.3,141.8) scale(1.0,1.06)" text-anchor="start" style="font-family:'Liberation Sans',Arial,Helvetica,sans-serif;font-weight:bold;text-rendering:geometricPrecision;font-size:19.05px" stroke="#000" stroke-width="0.25">Fake Proton</text>
</svg>
</body></html>
